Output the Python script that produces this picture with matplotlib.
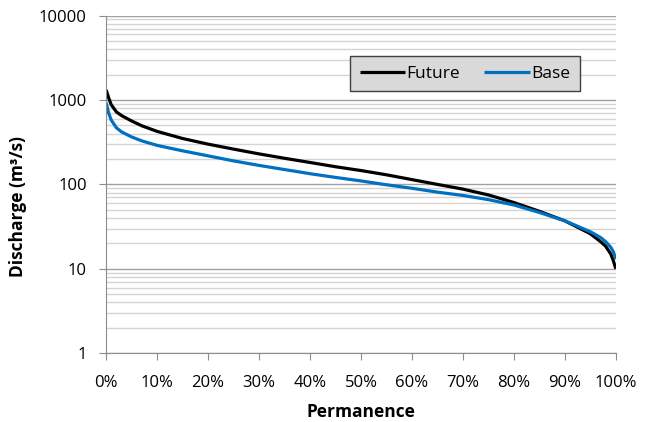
import matplotlib.pyplot as plt
import numpy as np
from matplotlib.ticker import FixedLocator, LogLocator, NullFormatter

plt.rcParams['font.family'] = ['Open Sans', 'DejaVu Sans']

# permanence (% of time exceeded)
permanence = [0, 0.5, 1, 2, 3, 5, 7, 10, 15, 20, 25, 30, 35, 40, 45, 50,
              55, 60, 65, 70, 75, 80, 85, 90, 93, 95, 97, 98, 99, 99.5, 100]

# discharge (m3/s)
future = [1320, 1060, 880, 725, 655, 565, 495, 425, 350, 300, 262, 230, 204, 182, 162, 146,
          130, 114, 100, 88, 75, 61, 48, 37, 30, 26, 21, 18.5, 15, 12.5, 10]
base = [930, 700, 580, 470, 420, 365, 328, 290, 250, 218, 190, 168, 150, 134, 121, 110,
        99, 90, 81, 74, 66, 57, 46.5, 37, 31, 27.5, 23.5, 21, 18, 16, 13]

x_ticks = list(range(0, 101, 10))
x_labels = [f'{t}%' for t in x_ticks]
y_ticks = [1, 10, 100, 1000, 10000]
y_labels = ['1', '10', '100', '1000', '10000']

fig = plt.figure(figsize=(6.51, 4.22), dpi=100)
ax = fig.add_axes([0.163, 0.163, 0.783, 0.8])

ax.plot(permanence, future, color='black', lw=2.3, label='Future', solid_capstyle='butt')
ax.plot(permanence, base, color='#0070C0', lw=2.3, label='Base', solid_capstyle='butt')

ax.set_yscale('log')
ax.set_ylim(1, 10000)
ax.set_xlim(0, 100)

ax.yaxis.set_major_locator(FixedLocator(y_ticks))
ax.set_yticklabels(y_labels)
ax.yaxis.set_minor_locator(LogLocator(base=10, subs=np.arange(2, 10)))
ax.yaxis.set_minor_formatter(NullFormatter())
ax.set_xticks(x_ticks)
ax.set_xticklabels(x_labels)

ax.grid(axis='y', which='major', color='#a0a0a0', lw=1.0)
ax.grid(axis='y', which='minor', color='#d4d4d4', lw=1.0)
ax.set_axisbelow(True)

for s in ['top', 'right']:
    ax.spines[s].set_visible(False)
for s in ['left', 'bottom']:
    ax.spines[s].set_color('#8c8c8c')

ax.tick_params(axis='both', which='major', direction='out', length=5, color='#8c8c8c',
               labelsize=12)
ax.tick_params(axis='x', pad=11)
ax.tick_params(axis='y', pad=9)
ax.tick_params(axis='y', which='minor', length=0)

ax.set_xlabel('Permanence', fontsize=12.5, fontweight='bold', labelpad=8)
ax.set_ylabel('Discharge (m³/s)', fontsize=12.5, fontweight='bold')
ax.yaxis.set_label_coords(-0.155, 0.435)

leg = ax.legend(loc='center', bbox_to_anchor=(0.704, 0.828), ncol=2, fontsize=12.5,
                frameon=True, fancybox=False, handlelength=2.6, handletextpad=0.1,
                columnspacing=1.4, borderpad=0.55)
leg.get_frame().set_facecolor('#d9d9d9')
leg.get_frame().set_edgecolor('#404040')
leg.get_frame().set_alpha(1)

plt.savefig('out.png', dpi=100)
